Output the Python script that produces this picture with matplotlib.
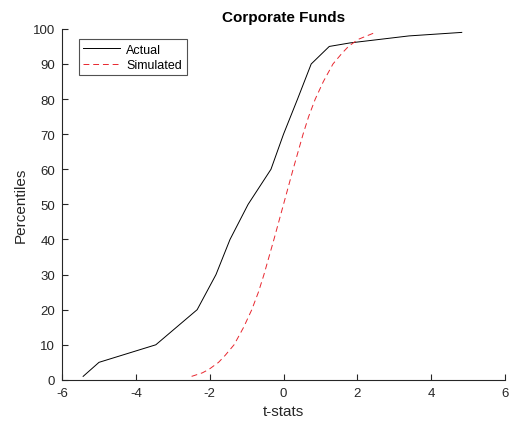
import matplotlib
matplotlib.use('Agg')
import matplotlib.pyplot as plt

plt.rcParams['font.family'] = ['Liberation Sans', 'DejaVu Sans']
plt.rcParams['axes.unicode_minus'] = False

# actual fund t-stats at each percentile
actual_pct = [1, 5, 10, 20, 30, 40, 50, 60, 70, 80, 90, 95, 96, 97, 98, 99]
actual_t = [-5.43, -5.0, -3.46, -2.34, -1.83, -1.45, -0.96, -0.34, 0.0, 0.38,
            0.75, 1.24, 1.8, 2.6, 3.4, 4.83]

# simulated t-stats at each percentile
sim_pct = [1, 2, 3, 5, 7, 10, 15, 20, 25, 30, 40, 50, 60, 70, 75, 80, 85, 90,
           93, 95, 97, 99]
sim_t = [-2.49, -2.20, -2.02, -1.76, -1.58, -1.34, -1.08, -0.86, -0.68, -0.53,
         -0.26, 0.00, 0.26, 0.53, 0.68, 0.86, 1.08, 1.34, 1.58, 1.76, 2.02, 2.49]

gray = '#262626'

fig = plt.figure(figsize=(5.09, 4.27), dpi=100)
ax = fig.add_axes([0.122, 0.108, 0.870, 0.822])

ax.plot(actual_t, actual_pct, color='black', lw=0.7, label='Actual')
ax.plot(sim_t, sim_pct, color='#e8262e', lw=0.7, ls=(0, (6, 4)), label='Simulated')

ax.set_xlim(-6, 6)
ax.set_ylim(0, 100)
ax.set_xticks(range(-6, 7, 2))
ax.set_yticks(range(0, 101, 10))
ax.spines['top'].set_visible(False)
ax.spines['right'].set_visible(False)
for s in ('left', 'bottom'):
    ax.spines[s].set_color(gray)
    ax.spines[s].set_linewidth(0.8)
ax.tick_params(direction='in', length=4, width=0.8, colors=gray,
               labelsize=9.5, labelcolor=gray, pad=5)

ax.set_title('Corporate Funds', fontsize=11, fontweight='bold', color='black', pad=6)
ax.set_xlabel('t-stats', fontsize=11, color=gray)
ax.set_ylabel('Percentiles', fontsize=11, color=gray)

leg = ax.legend(loc='upper left', bbox_to_anchor=(0.038, 0.97), borderaxespad=0,
                fontsize=9, frameon=True, fancybox=False, handlelength=2.9,
                borderpad=0.35, labelspacing=0.25, handletextpad=0.55)
leg.get_frame().set_edgecolor(gray)
leg.get_frame().set_linewidth(0.8)

fig.savefig('out.png', dpi=100)
